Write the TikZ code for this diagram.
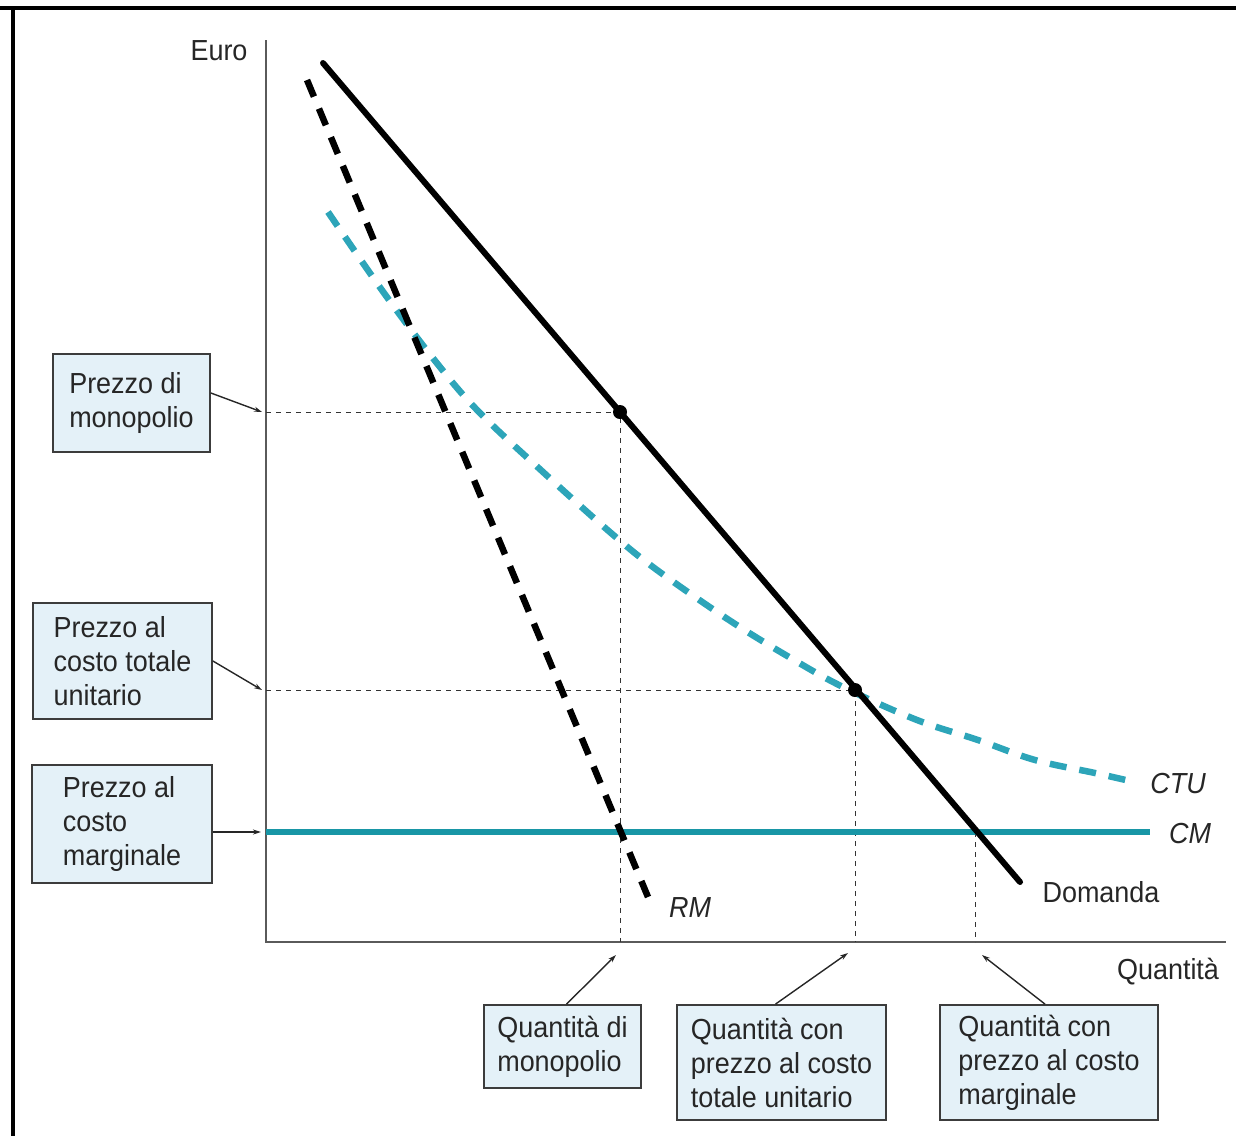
\documentclass[tikz,border=0pt]{standalone}
\usepackage{fontspec}
\setmainfont{Liberation Sans}[FakeStretch=0.93]
\usetikzlibrary{arrows.meta}
\definecolor{boxfill}{RGB}{228,241,248}
\definecolor{boxline}{RGB}{60,60,60}
\definecolor{cmcol}{RGB}{24,150,166}
\definecolor{ctucol}{RGB}{45,165,185}
\definecolor{axiscol}{RGB}{90,90,90}
\begin{document}
\begin{tikzpicture}[x=1pt,y=-1pt,
  lbl/.style={font=\fontsize{29}{34}\selectfont, text=black!85},
  infobox/.style={draw=boxline, line width=1.8pt, fill=boxfill, align=left,
     font=\fontsize{29}{34}\selectfont, text=black!85, inner sep=0pt},
  conn/.style={line width=1.4pt, black!85, -{Stealth[length=8pt,width=5pt]}},
  guide/.style={line width=1pt, black!80, dash pattern=on 5pt off 5pt},
  dot/.style={circle, fill=black, inner sep=0pt, minimum size=14pt}]
\useasboundingbox (0,0) rectangle (1236,1136);
% frame
\fill[black] (0,6) rectangle (1236,9.5);
\fill[black] (11,6) rectangle (14.5,1136);
% axes
\coordinate (ytop) at (266,40);
\coordinate (O) at (266,942);
\coordinate (xend) at (1226,942);
\draw[axiscol, line width=1.8pt] (ytop) -- (O) -- (xend);
\node[lbl] (euro) at (219,51) {Euro};
\node[lbl] (quant) at (1168,972) {Quantità};
% key points
\coordinate (P1) at (620,412);
\coordinate (P2) at (855,690);
\coordinate (P3) at (975,832);
\coordinate (y1) at (266,412);
\coordinate (y2) at (266,690);
\coordinate (x1) at (620,942);
\coordinate (x2) at (855,942);
\coordinate (x3) at (975,942);
% guides
\draw[guide] (y1) -- (P1) -- (x1);
\draw[guide] (y2) -- (P2) -- (x2);
\draw[guide] (P3) -- (x3);
% CM
\coordinate (cm0) at (266,832);
\coordinate (cm1) at (1150,832);
\draw[cmcol, line width=6pt] (cm0) -- (cm1);
\node[lbl, font=\fontsize{29}{34}\selectfont\itshape] (cmlab) at (1190,834) {CM};
% CTU
\draw[ctucol, line width=6.5pt, dash pattern=on 17pt off 13pt] plot[smooth, tension=0.6] coordinates {
 (328,212) (384,293) (436,362) (479,412) (543,472) (611,533) (657,570)
 (729,620) (789,657) (843,687) (917,720) (978,740) (1035,760) (1095,773) (1130,781)};
\node[lbl, font=\fontsize{29}{34}\selectfont\itshape] (ctulab) at (1178,784) {CTU};
% RM
\coordinate (rm0) at (307,80);
\coordinate (rm1) at (648,897);
\draw[black, line width=6.5pt, dash pattern=on 18pt off 13pt] (rm0) -- (rm1);
\node[lbl, font=\fontsize{29}{34}\selectfont\itshape] (rmlab) at (690,908) {RM};
% Demand
\coordinate (d0) at (323,63);
\coordinate (d1) at (1020,882);
\draw[black, line width=6pt, line cap=round] (d0) -- (d1);
\node[lbl] (dlab) at (1101,892) {Domanda};
% dots
\node[dot] (dot1) at (P1) {};
\node[dot] (dot2) at (P2) {};
% boxes
\node[infobox, minimum width=157pt, minimum height=98pt] (b1) at (131.5,403) {Prezzo di\\monopolio};
\node[infobox, minimum width=179pt, minimum height=116pt] (b2) at (122.5,661) {Prezzo al\\costo totale\\unitario};
\node[infobox, minimum width=180pt, minimum height=118pt] (b3) at (122,824) {Prezzo al\\costo\\marginale};
\node[infobox, minimum width=157pt, minimum height=83pt] (b4) at (562.5,1046.5) {Quantità di\\monopolio};
\node[infobox, minimum width=209pt, minimum height=115pt] (b5) at (781.5,1062.5) {Quantità con\\prezzo al costo\\totale unitario};
\node[infobox, minimum width=218pt, minimum height=115pt] (b6) at (1049,1062.5) {Quantità con\\prezzo al costo\\marginale};
% connector ends
\coordinate (e1) at (262,412);
\coordinate (e2) at (262,690);
\coordinate (e3) at (261,832);
\coordinate (e4) at (616,955);
\coordinate (e5) at (848,953);
\coordinate (e6) at (982,955);
\draw[conn] ([yshift=10pt]b1.east) -- (e1);
\draw[conn] (b2.east) -- (e2);
\draw[conn] ([yshift=-8pt]b3.east) -- (e3);
\draw[conn] ([xshift=4pt]b4.north) -- (e4);
\draw[conn] ([xshift=-6pt]b5.north) -- (e5);
\draw[conn] ([xshift=-4pt]b6.north) -- (e6);
\end{tikzpicture}
\end{document}
